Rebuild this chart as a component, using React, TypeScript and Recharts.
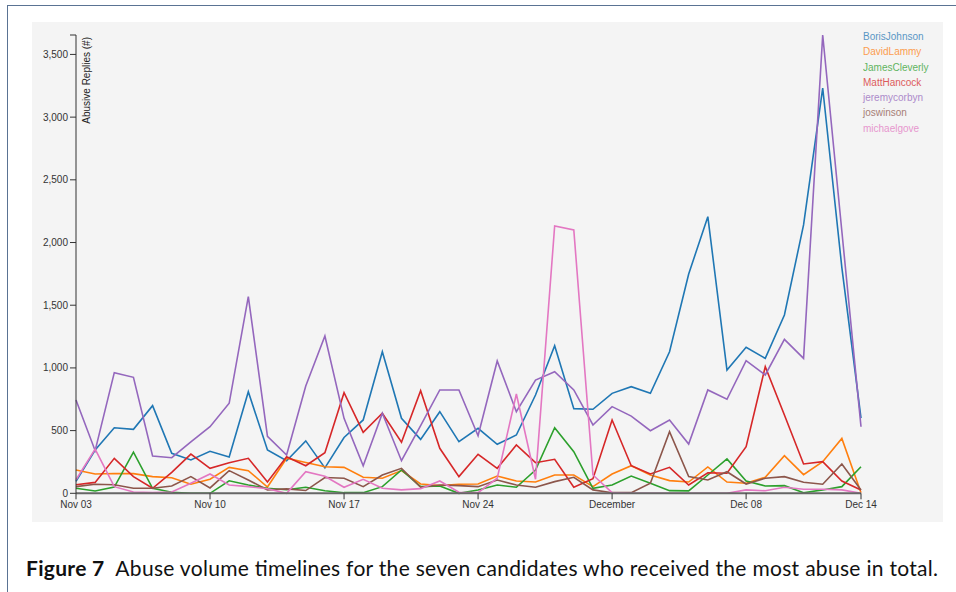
import React from 'react';
import { LineChart, Line, XAxis, YAxis } from 'recharts';

const dates = [
  'Nov 03', 'Nov 04', 'Nov 05', 'Nov 06', 'Nov 07', 'Nov 08', 'Nov 09',
  'Nov 10', 'Nov 11', 'Nov 12', 'Nov 13', 'Nov 14', 'Nov 15', 'Nov 16',
  'Nov 17', 'Nov 18', 'Nov 19', 'Nov 20', 'Nov 21', 'Nov 22', 'Nov 23',
  'Nov 24', 'Nov 25', 'Nov 26', 'Nov 27', 'Nov 28', 'Nov 29', 'Nov 30',
  'Dec 01', 'Dec 02', 'Dec 03', 'Dec 04', 'Dec 05', 'Dec 06', 'Dec 07',
  'Dec 08', 'Dec 09', 'Dec 10', 'Dec 11', 'Dec 12', 'Dec 13', 'Dec 14',
];

const seriesNames = ['BorisJohnson', 'DavidLammy', 'JamesCleverly', 'MattHancock', 'jeremycorbyn', 'joswinson', 'michaelgove'];
const seriesColors = ['#1f77b4', '#ff7f0e', '#2ca02c', '#d62728', '#9467bd', '#8c564b', '#e377c2'];

const borisJohnson = [95, 345, 523, 510, 699, 319, 266, 335, 290, 810, 345, 260, 418, 203, 445, 585, 1129, 598, 430, 651, 412, 518, 391, 465, 784, 1177, 675, 670, 797, 850, 797, 1129, 1749, 2206, 983, 1164, 1076, 1422, 2140, 3232, 1800, 600];
const davidLammy = [186, 154, 158, 157, 133, 124, 72, 112, 207, 180, 50, 280, 246, 212, 207, 128, 120, 181, 74, 61, 72, 74, 138, 98, 90, 146, 146, 53, 154, 220, 146, 101, 90, 210, 90, 80, 128, 300, 149, 252, 438, 5];
const jamesCleverly = [40, 18, 49, 328, 40, 8, 0, 0, 100, 66, 40, 28, 48, 20, 5, 5, 53, 186, 53, 58, 0, 27, 66, 48, 186, 523, 332, 40, 66, 138, 80, 21, 19, 146, 274, 98, 58, 61, 5, 27, 53, 212];
const mattHancock = [68, 87, 279, 133, 40, 167, 313, 199, 244, 279, 90, 292, 220, 324, 802, 486, 638, 407, 818, 359, 133, 311, 199, 385, 244, 271, 48, 116, 585, 220, 154, 207, 66, 164, 160, 372, 1010, 624, 234, 252, 98, 27];
const jeremyCorbyn = [744, 340, 962, 925, 297, 284, 410, 531, 718, 1568, 455, 305, 856, 1254, 598, 220, 638, 260, 540, 824, 824, 459, 1055, 651, 903, 970, 824, 545, 691, 616, 499, 585, 393, 824, 750, 1058, 944, 1228, 1076, 3655, 2090, 531];
const joSwinson = [53, 72, 68, 40, 40, 58, 133, 43, 181, 106, 27, 35, 22, 126, 120, 53, 146, 199, 48, 66, 61, 53, 106, 66, 48, 93, 128, 27, 5, 5, 80, 491, 133, 106, 172, 74, 120, 133, 88, 72, 234, 27];
const michaelGove = [108, 352, 53, 10, 5, 10, 80, 154, 66, 53, 36, 0, 172, 136, 48, 112, 40, 27, 37, 98, 8, 5, 120, 792, 112, 2132, 2100, 146, 5, 0, 0, 0, 0, 0, 0, 27, 20, 48, 32, 32, 27, 0];

const xTickDates = ['Nov 03', 'Nov 10', 'Nov 17', 'Nov 24', 'Dec 01', 'Dec 08', 'Dec 14'];
const xTickLabels = ['Nov 03', 'Nov 10', 'Nov 17', 'Nov 24', 'December', 'Dec 08', 'Dec 14'];
const yTicks = [0, 500, 1000, 1500, 2000, 2500, 3000, 3500];

const yLabel = 'Abusive Replies (#)';
const captionBold = 'Figure 7';
const captionText = 'Abuse volume timelines for the seven candidates who received the most abuse in total.';

const seriesValues = [borisJohnson, davidLammy, jamesCleverly, mattHancock, jeremyCorbyn, joSwinson, michaelGove];

const data = dates.map((d, i) => {
  const row: Record<string, string | number> = { date: d };
  seriesNames.forEach((n, k) => {
    row[n] = seriesValues[k][i];
  });
  return row;
});

const yMax = Math.max(...seriesValues.flat());

const axisFont = '"Liberation Sans", Arial, Helvetica, sans-serif';

export default function App() {
  return (
    <div style={{ position: 'absolute', left: 0, top: 0, width: 956, height: 592, background: '#fff', overflow: 'hidden' }}>
      {/* figure frame */}
      <div style={{ position: 'absolute', left: 7, top: 5, width: 1.3, height: 600, background: '#5a7393' }} />
      <div style={{ position: 'absolute', left: 7, top: 5, width: 960, height: 1.3, background: '#5a7393' }} />
      {/* chart panel */}
      <div style={{ position: 'absolute', left: 32, top: 22, width: 911, height: 500, background: '#f4f4f4' }} />
      <div style={{ position: 'absolute', left: 0, top: 0 }}>
        <LineChart
          width={956}
          height={592}
          data={data}
          margin={{ top: 35, right: 95, bottom: 68.7, left: 36 }}
        >
          <XAxis
            dataKey="date"
            ticks={xTickDates}
            interval={0}
            height={30}
            tickSize={6}
            tickFormatter={(v: string) => {
              const k = xTickDates.indexOf(v);
              return k >= 0 ? xTickLabels[k] : '';
            }}
            tick={{ fill: '#333', fontSize: 10, fontFamily: axisFont }}
            tickLine={{ stroke: '#333' }}
            axisLine={{ stroke: '#666', strokeWidth: 2 }}
          />
          <YAxis
            type="number"
            domain={[0, yMax]}
            ticks={[...yTicks, yMax]}
            interval={0}
            width={40}
            tickSize={6}
            tickFormatter={(v: number) => (v === yMax ? '' : v.toLocaleString('en-US'))}
            tick={{ fill: '#333', fontSize: 10, fontFamily: axisFont }}
            tickLine={{ stroke: '#333' }}
            axisLine={{ stroke: '#333' }}
            label={{
              content: () => (
                <text
                  x={90}
                  y={37}
                  transform="rotate(-90 90 37)"
                  textAnchor="end"
                  fontSize={10}
                  fontFamily={axisFont}
                  fill="#222"
                >
                  {yLabel}
                </text>
              ),
            }}
          />
          {seriesNames.map((n, k) => (
            <Line
              key={n}
              type="linear"
              dataKey={n}
              stroke={seriesColors[k]}
              strokeWidth={1.6}
              dot={false}
              activeDot={false}
              isAnimationActive={false}
            />
          ))}
        </LineChart>
      </div>
      {/* legend */}
      <div style={{ position: 'absolute', left: 863, top: 29 }}>
        {seriesNames.map((n, k) => (
          <div
            key={n}
            style={{
              height: 15.3,
              lineHeight: '15.3px',
              fontSize: 10,
              fontFamily: axisFont,
              color: seriesColors[k],
              opacity: 0.75,
              whiteSpace: 'nowrap',
            }}
          >
            {n}
          </div>
        ))}
      </div>
      {/* caption */}
      <svg style={{ position: 'absolute', left: 0, top: 540 }} width={956} height={52}>
        <text
          x={26}
          y={36}
          fontSize={21}
          fontFamily='Lato, "Open Sans", sans-serif'
          fill="#111"
          textLength={912}
          lengthAdjust="spacing"
        >
          <tspan fontWeight={700}>{captionBold}</tspan>
          <tspan>{'\u2002' + captionText}</tspan>
        </text>
      </svg>
    </div>
  );
}
